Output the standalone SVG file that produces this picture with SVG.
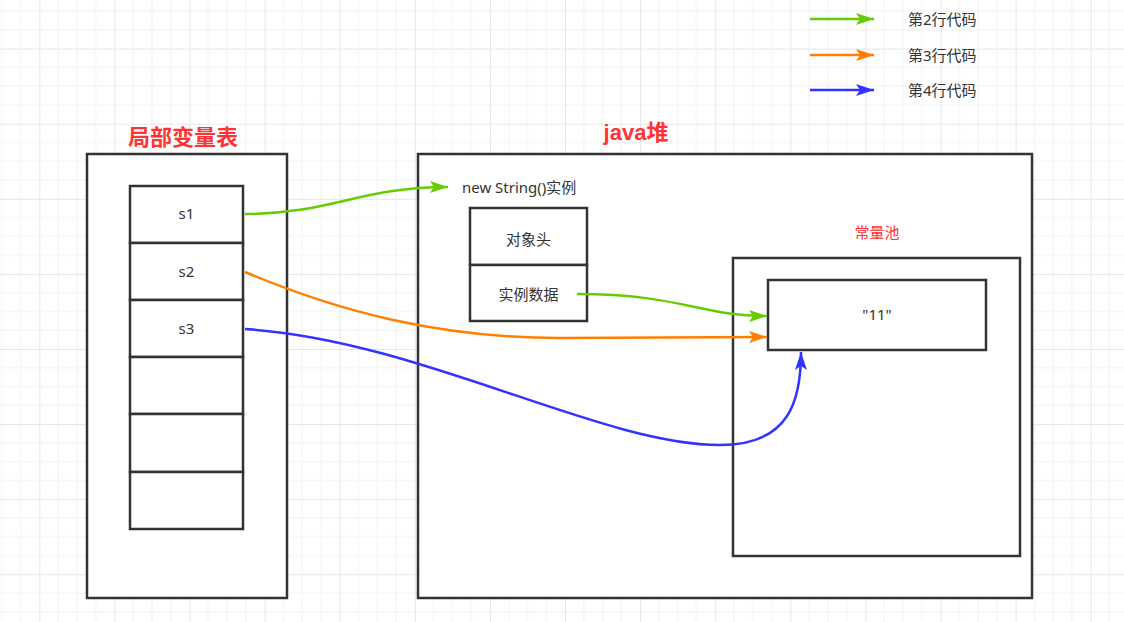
<svg xmlns="http://www.w3.org/2000/svg" width="1124" height="622" viewBox="0 0 1124 622">
<defs>
<pattern id="grid" patternUnits="userSpaceOnUse" x="39.3" y="48.6" width="75.1" height="75.1">
<path d="M18.775 0V75.1M37.55 0V75.1M56.325 0V75.1M0 18.775H75.1M0 37.55H75.1M0 56.325H75.1" stroke="#f2f2f2" stroke-width="1" fill="none"/>
<path d="M0.5 0V75.1M0 0.5H75.1" stroke="#e6e6e6" stroke-width="1" fill="none"/>
</pattern>
<marker id="ag" markerUnits="userSpaceOnUse" markerWidth="20" markerHeight="14" refX="18" refY="7" orient="auto"><path d="M0,1 L18,7 L0,13 L4,7 Z" fill="#66CC00"/></marker>
<marker id="ao" markerUnits="userSpaceOnUse" markerWidth="20" markerHeight="14" refX="18" refY="7" orient="auto"><path d="M0,1 L18,7 L0,13 L4,7 Z" fill="#FF8000"/></marker>
<marker id="ab" markerUnits="userSpaceOnUse" markerWidth="20" markerHeight="14" refX="18" refY="7" orient="auto"><path d="M0,1 L18,7 L0,13 L4,7 Z" fill="#3333FF"/></marker>
</defs>
<style>
.box{fill:#fff;stroke:#333;stroke-width:2.5}
.t{font-family:"Noto Sans","Noto Sans CJK SC",sans-serif;font-size:15px;fill:#333}
.c{text-anchor:middle}
.title{font-family:"Liberation Sans","Noto Sans CJK SC",sans-serif;font-size:22px;font-weight:bold;fill:#FF3333;text-anchor:middle}
.red{fill:#FF3333}
.e{fill:none;stroke-width:2.5}
.g{stroke:#66CC00}
.o{stroke:#FF8000}
.b{stroke:#3333FF}
</style>
<rect width="1124" height="622" fill="#fff"/>
<rect width="1124" height="622" fill="url(#grid)"/>

<g id="legend">
<path class="e g" d="M810,19 H874" marker-end="url(#ag)"/>
<text class="t" x="908" y="25">第2行代码</text>
<path class="e o" d="M810,55 H874" marker-end="url(#ao)"/>
<text class="t" x="908" y="61">第3行代码</text>
<path class="e b" d="M810,90 H874" marker-end="url(#ab)"/>
<text class="t" x="908" y="96">第4行代码</text>
</g>

<g id="local-var-table">
<text class="title" x="183" y="145">局部变量表</text>
<rect class="box" x="87" y="154" width="200" height="444"/>
</g>
<g id="cell-s1"><rect class="box" x="130" y="186" width="113" height="57"/><text class="t c" x="186.5" y="219">s1</text></g>
<g id="cell-s2"><rect class="box" x="130" y="243" width="113" height="57"/><text class="t c" x="186.5" y="277">s2</text></g>
<g id="cell-s3"><rect class="box" x="130" y="300" width="113" height="57"/><text class="t c" x="186.5" y="334">s3</text></g>
<g id="cell-4"><rect class="box" x="130" y="357" width="113" height="57"/></g>
<g id="cell-5"><rect class="box" x="130" y="414" width="113" height="58"/></g>
<g id="cell-6"><rect class="box" x="130" y="472" width="113" height="57"/></g>

<g id="java-heap">
<text class="title" x="636" y="140">java堆</text>
<rect class="box" x="418" y="154" width="614" height="444"/>
<text class="t" x="462" y="193">new String()实例</text>
</g>
<g id="obj-header"><rect class="box" x="470" y="208" width="117" height="57"/><text class="t c" x="528.5" y="245">对象头</text></g>
<g id="obj-data"><rect class="box" x="470" y="265" width="117" height="56"/><text class="t c" x="528.5" y="300">实例数据</text></g>

<g id="const-pool">
<text class="t c red" x="877" y="238">常量池</text>
<rect class="box" x="733" y="258" width="287" height="298"/>
</g>
<g id="str-11"><rect class="box" x="768" y="280" width="218" height="70"/><text class="t c" x="877" y="320">"11"</text></g>

<g id="connectors">
<path class="e g" d="M245,214 C330,214 360,187 448,187" marker-end="url(#ag)"/>
<path class="e g" d="M577,294 C680,294 700,316 767,316" marker-end="url(#ag)"/>
<path class="e o" d="M245,272 C340,312 440,338 560,338 L767,337" marker-end="url(#ao)"/>
<path class="e b" d="M245,329 C420,340 600,445 720,445 C790,445 801,400 801,352" marker-end="url(#ab)"/>
</g>
</svg>
